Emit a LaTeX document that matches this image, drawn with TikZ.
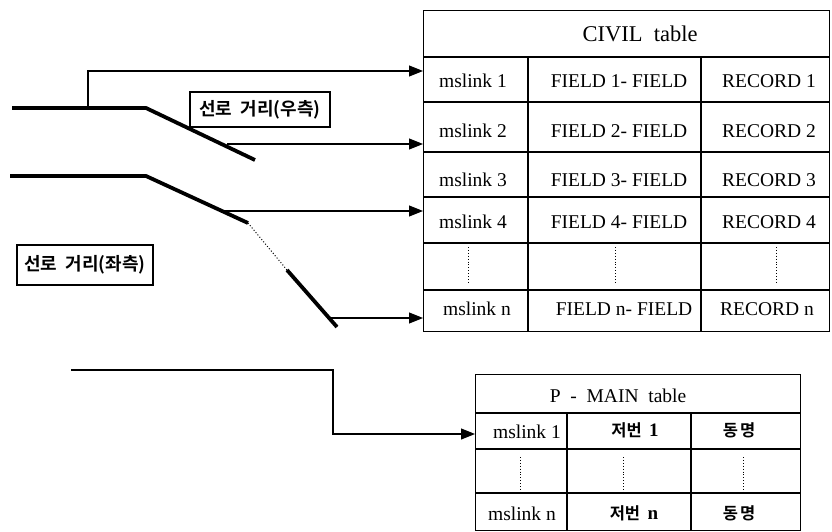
\documentclass[tikz,border=0pt]{standalone}
\usepackage{fontspec}
\setmainfont{Liberation Serif}
\newfontfamily\kr{Noto Sans CJK KR}[BoldFont={Noto Sans CJK KR Bold}]
\usetikzlibrary{arrows.meta}
\begin{document}
\begin{tikzpicture}[x=1pt,y=-1pt,
  road/.style={line width=3.8pt},
  link/.style={line width=1.1pt,-{Triangle[length=14pt,width=11pt]}},
  gridline/.style={line width=1.2pt},
  dotline/.style={line width=0.9pt,dotted},
  cell/.style={font=\fontsize{19.5}{22}\selectfont, inner sep=0pt},
  ttl/.style={font=\fontsize{22.5}{26}\selectfont, inner sep=0pt},
  krcell/.style={font=\kr\bfseries\fontsize{16.5}{19}\selectfont, inner sep=0pt},
  tag/.style={draw, line width=1.1pt, font=\kr\bfseries\fontsize{18}{21}\selectfont, inner sep=0pt}
]
\useasboundingbox (0,0) rectangle (832,532);

% ---------- CIVIL table ----------
\node[draw, gridline, anchor=north west, minimum width=406pt, minimum height=321pt, inner sep=0pt] (civil) at (423,10) {};
\foreach \yy in {57,102,152,197,243,290} \draw[gridline] (423,\yy) -- (829,\yy);
\draw[gridline] (528,57) -- (528,331);
\draw[gridline] (701,57) -- (701,331);
\node[ttl] (ctitle) at (640,34) {CIVIL\ \ table};
\node[cell] (c11) at (473,81) {mslink\ 1};
\node[cell] (c12) at (619,81) {FIELD 1-\ FIELD};
\node[cell] (c13) at (769,81) {RECORD\ 1};
\node[cell] (c21) at (473,131) {mslink\ 2};
\node[cell] (c22) at (619,131) {FIELD 2-\ FIELD};
\node[cell] (c23) at (769,131) {RECORD\ 2};
\node[cell] (c31) at (473,180) {mslink\ 3};
\node[cell] (c32) at (619,180) {FIELD 3-\ FIELD};
\node[cell] (c33) at (769,180) {RECORD\ 3};
\node[cell] (c41) at (473,222) {mslink\ 4};
\node[cell] (c42) at (619,222) {FIELD 4-\ FIELD};
\node[cell] (c43) at (769,222) {RECORD\ 4};
\node[cell] (cn1) at (477,309) {mslink\ n};
\node[cell] (cn2) at (624,309) {FIELD n-\ FIELD};
\node[cell] (cn3) at (767,309) {RECORD\ n};
\draw[dotline] (468,247) -- (468,283);
\draw[dotline] (615,247) -- (615,283);
\draw[dotline] (776,247) -- (776,283);

% ---------- P-MAIN table ----------
\node[draw, gridline, anchor=north west, minimum width=325pt, minimum height=156pt, inner sep=0pt] (pmain) at (475,374) {};
\foreach \yy in {413,449,493} \draw[gridline] (475,\yy) -- (800,\yy);
\draw[gridline] (567,413) -- (567,530);
\draw[gridline] (691,413) -- (691,530);
\node[cell, font=\fontsize{19.5}{22}\selectfont] (ptitle) at (618,396) {P\ \ -\ \ MAIN\ \ table};
\node[cell] (p11) at (527,432) {mslink\ 1};
\node[krcell] (p12) at (635,430) {저번\ \ \textrm{\fontsize{19}{22}\selectfont 1}};
\node[krcell] (p13) at (739,430) {동\hspace{2pt}명};
\node[cell] (pn1) at (522,514) {mslink\ n};
\node[krcell] (pn2) at (634,513) {저번\ \ \textrm{\fontsize{19}{22}\selectfont n}};
\node[krcell] (pn3) at (739,513) {동\hspace{2pt}명};
\draw[dotline] (520,457) -- (520,492);
\draw[dotline] (623,457) -- (623,492);
\draw[dotline] (743,457) -- (743,492);

% ---------- road lines ----------
\draw[road] (12,108) -- (146,108) -- (255,160);
\draw[road] (10,176) -- (146,176) -- (248,223);
\draw[line width=1pt, dotted] (248,223) -- (287,270);
\draw[road] (287,270) -- (337,327);

\node[tag, minimum width=140pt, minimum height=35pt] (tagR) at (260,109.5) {선로\ \ 거리(우측)};
\node[tag, minimum width=136pt, minimum height=40pt] (tagL) at (85,265) {선로\ \ 거리(좌측)};

% ---------- connectors ----------
\coordinate (u0) at (88,108);
\coordinate (k1) at (88,71);
\coordinate (u1) at (227,144);
\coordinate (l1) at (222,211);
\coordinate (l2) at (330,318);
\coordinate (m0) at (71,370);
\coordinate (m1) at (333,434);

\draw[link] (u0) -- (k1) -- (k1 -| civil.west);
\draw[link] (u1) -- (u1 -| civil.west);
\draw[link] (l1) -- (l1 -| civil.west);
\draw[link] (l2) -- (l2 -| civil.west);
\draw[link] (m0) -| (m1) -- (m1 -| pmain.west);
\end{tikzpicture}
\end{document}
